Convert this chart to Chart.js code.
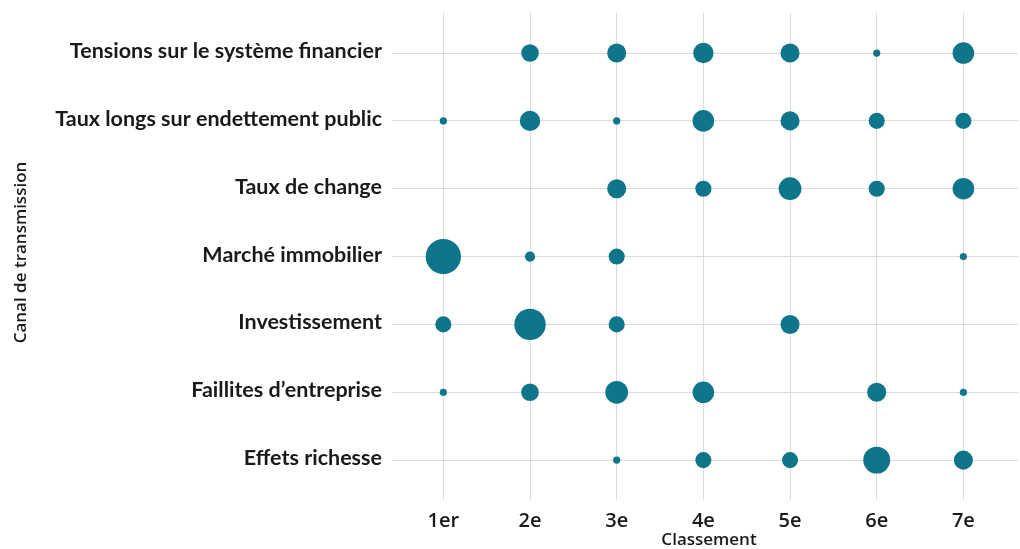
<!DOCTYPE html>
<html>
<head>
<meta charset="utf-8">
<script src="https://cdn.jsdelivr.net/npm/chart.js@4.4.1/dist/chart.umd.min.js"></script>
<style>
  html, body { margin: 0; padding: 0; background: #ffffff; }
  #wrap { width: 1020px; height: 549px; position: relative; }
</style>
</head>
<body>
<div id="wrap"><canvas id="c"></canvas></div>
<script>
// Rank labels (x axis)
const ranks = ["1er", "2e", "3e", "4e", "5e", "6e", "7e"];
// Transmission channels (y axis, top to bottom)
const channels = [
  "Tensions sur le système financier",
  "Taux longs sur endettement public",
  "Taux de change",
  "Marché immobilier",
  "Investissement",
  "Faillites d\u2019entreprise",
  "Effets richesse"
];
// Number of answers for each rank (1er..7e), null = none
const tensions       = [null, 6, 7, 8, 7, 1, 9];
const tauxLongs      = [1, 8, 1, 9, 7, 5, 5];
const tauxChange     = [null, null, 7, 5, 10, 5, 9];
const immobilier     = [24, 2, 5, null, null, null, 1];
const investissement = [5, 19, 5, null, 7, null, null];
const faillites      = [1, 6, 10, 9, null, 7, 1];
const richesse       = [null, null, 1, 5, 5, 14, 7];

const rows = [tensions, tauxLongs, tauxChange, immobilier, investissement, faillites, richesse];

const COLOR = '#0e758a';
const sizeOf = v => 3.6 * Math.sqrt(v);

const points = [];
rows.forEach((row, i) => {
  row.forEach((v, j) => {
    if (v !== null) points.push({ x: j + 1, y: i + 1, v: v, r: sizeOf(v) });
  });
});

const intTicks = scale => { scale.ticks = [1,2,3,4,5,6,7].map(v => ({ value: v })); };
const Y_FONT = 21.5;

new Chart(document.getElementById('c'), {
  type: 'bubble',
  data: {
    datasets: [{
      data: points,
      backgroundColor: COLOR,
      borderWidth: 0,
      hoverBorderWidth: 0
    }]
  },
  options: {
    responsive: true,
    maintainAspectRatio: false,
    animation: false,
    events: [],
    layout: { autoPadding: false, padding: { top: 13, right: 2, left: 0, bottom: 0 } },
    plugins: { legend: { display: false }, tooltip: { enabled: false } },
    scales: {
      x: {
        type: 'linear',
        min: 0.5,
        max: 7.63,
        afterBuildTicks: intTicks,
        afterFit: s => { s.height = 57; },
        grid: { color: '#dcdcdc', lineWidth: 1, tickLength: 8, drawTicks: true },
        border: { display: false },
        ticks: {
          padding: 9,
          color: '#1a1a1a',
          font: { family: "'Open Sans', sans-serif", size: 20, weight: '600' },
          callback: v => ranks[v - 1]
        },
        title: {
          display: true,
          text: 'Classement',
          color: '#1a1a1a',
          padding: { top: 0, bottom: 0 },
          font: { family: "'Open Sans', sans-serif", size: 17, weight: '600', lineHeight: 1 }
        }
      },
      y: {
        type: 'linear',
        reverse: true,
        min: 0.41,
        max: 7.47,
        afterBuildTicks: intTicks,
        afterFit: s => { s.width = 400; },
        grid: { color: '#dcdcdc', lineWidth: 1, tickLength: 8, drawTicks: true },
        border: { display: false },
        ticks: {
          align: 'start',
          padding: 10,
          labelOffset: -(Y_FONT / 2) - 2,
          color: '#1a1a1a',
          font: { family: "Lato, 'Open Sans', sans-serif", size: Y_FONT, weight: '700' },
          callback: v => channels[v - 1]
        },
        title: {
          display: true,
          text: 'Canal de transmission',
          color: '#1a1a1a',
          padding: { top: 11, bottom: 0 },
          font: { family: "'Open Sans', sans-serif", size: 17, weight: '600' }
        }
      }
    }
  }
});
</script>
</body>
</html>
